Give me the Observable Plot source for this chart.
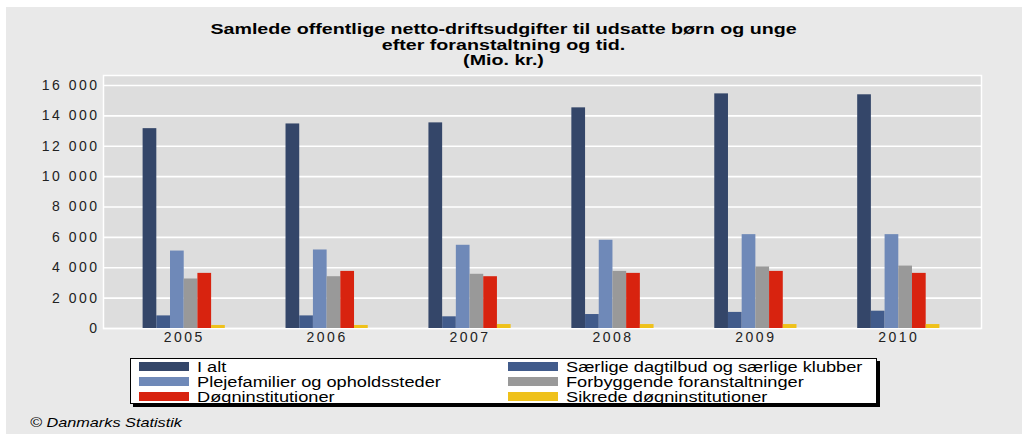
<!DOCTYPE html>
<html><head><meta charset="utf-8">
<script src="https://cdn.jsdelivr.net/npm/d3@7"></script>
<script src="https://cdn.jsdelivr.net/npm/@observablehq/plot@0.6"></script>
<style>
html,body{margin:0;padding:0;background:#fff;width:1022px;height:434px;overflow:hidden;font-family:"Liberation Sans",Arial,sans-serif;}
#bg{position:absolute;left:6px;top:7px;width:1016px;height:427px;background:#e9e9e9;}
#chart{position:absolute;left:0;top:0;}
.title{position:absolute;left:0;width:1007px;text-align:center;font-weight:bold;font-size:15px;line-height:16px;transform:scaleX(1.31);transform-origin:50% 50%;color:#000;white-space:nowrap;}
#legend{position:absolute;left:130px;top:358px;width:747px;height:46px;box-sizing:border-box;border:1px solid #000;background:#fff;box-shadow:3px 3px 0 #000;}
.sw{position:absolute;width:50px;height:9px;}
.lt{position:absolute;font-size:14px;line-height:16px;white-space:nowrap;transform:scaleX(1.3);transform-origin:0 50%;color:#000;}
#caption{position:absolute;left:30px;top:415px;font-size:13px;line-height:16px;font-style:italic;white-space:nowrap;transform:scaleX(1.25);transform-origin:0 50%;color:#000;}
</style>
</head><body>
<div id="bg"></div>
<div class="title" style="top:21px">Samlede offentlige netto-driftsudgifter til udsatte børn og unge</div>
<div class="title" style="top:37px">efter foranstaltning og tid.</div>
<div class="title" style="top:52px">(Mio. kr.)</div>
<div id="chart"></div>
<div id="legend"></div>
<div id="caption">© Danmarks Statistik</div>
<script>
const years = ["2005", "2006", "2007", "2008", "2009", "2010"];
const seriesNames = [
  "I alt",
  "Særlige dagtilbud og særlige klubber",
  "Plejefamilier og opholdssteder",
  "Forbyggende foranstaltninger",
  "Døgninstitutioner",
  "Sikrede døgninstitutioner"
];
const iAlt     = [13160, 13470, 13540, 14530, 15450, 15390];
const saerlige = [830, 830, 770, 920, 1060, 1140];
const pleje    = [5100, 5170, 5480, 5810, 6180, 6180];
const forbyg   = [3260, 3410, 3570, 3760, 4050, 4110];
const dogn     = [3630, 3760, 3410, 3630, 3760, 3630];
const sikrede  = [200, 200, 260, 260, 260, 260];
const seriesColors = ["#344669", "#415b8b", "#6f89b8", "#999999", "#d8230f", "#efc11a"];
const yTicks = [0, 2000, 4000, 6000, 8000, 10000, 12000, 14000, 16000];

const seriesValues = [iAlt, saerlige, pleje, forbyg, dogn, sikrede];
const rows = seriesNames.flatMap((s, i) => years.map((y, j) => ({year: y, series: s, value: seriesValues[i][j]})));

const barW = 13.7;
const fmt = d => d3.format(",")(d).replace(/,/g, " ");

const chart = Plot.plot({
  width: 1022,
  height: 360,
  marginTop: 75,
  marginBottom: 32,
  marginLeft: 103,
  marginRight: 41,
  style: {background: "transparent", fontFamily: "'Liberation Sans', Arial, sans-serif", letterSpacing: "2.5px"},
  x: {domain: years, range: [105.4, 976.6], paddingInner: 0.9041, paddingOuter: 0.5, round: false, label: null},
  y: {domain: [0, 16660], label: null},
  color: {domain: seriesNames, range: seriesColors},
  marks: [
    Plot.frame({fill: "#dddddd", stroke: "#ffffff", strokeWidth: 1.5}),
    Plot.gridY(yTicks, {stroke: "#ffffff", strokeOpacity: 1, strokeWidth: 1.6}),
    ...seriesNames.map((s, i) => Plot.barY(rows.filter(d => d.series === s), {
      x: "year", y: "value", fill: "series", dx: (i - 2.5) * barW
    })),
    Plot.axisY(yTicks, {tickSize: 0, tickPadding: 4, tickFormat: fmt, fontSize: 14, color: "#222", label: null}),
    Plot.axisX({tickSize: 0, tickPadding: 4, fontSize: 14, color: "#222", label: null})
  ]
});
document.getElementById("chart").appendChild(chart);

const legend = document.getElementById("legend");
const legLeft = 130, legTop = 358;
seriesNames.forEach((s, i) => {
  const col = i % 2, row = Math.floor(i / 2);
  const x = (col === 0 ? 139 : 508) - legLeft - 1;
  const y = 362 + row * 15 - legTop - 1;
  const sw = document.createElement("div");
  sw.className = "sw";
  sw.style.left = x + "px";
  sw.style.top = y + "px";
  sw.style.background = seriesColors[i];
  legend.appendChild(sw);
  const t = document.createElement("div");
  t.className = "lt";
  t.textContent = s;
  t.style.left = (x + 58) + "px";
  t.style.top = (y + 4.5 - 8) + "px";
  legend.appendChild(t);
});
</script>
</body></html>
